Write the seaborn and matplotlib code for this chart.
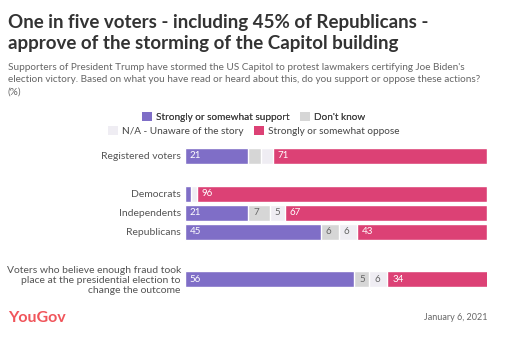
import matplotlib
matplotlib.use("Agg")
import matplotlib.pyplot as plt
from matplotlib.patches import Patch
import seaborn as sns
import pandas as pd
import numpy as np

categories = ["Registered voters", "Democrats", "Independents", "Republicans",
              "Voters who believe enough fraud took\nplace at the presidential election to\nchange the outcome"]
support = [21, 2, 21, 45, 56]
dont_know = [4, 0, 7, 6, 5]
unaware = [4, 2, 5, 6, 6]
oppose = [71, 96, 67, 43, 34]
series_names = ["Strongly or somewhat support", "Don't know",
                "N/A - Unaware of the story", "Strongly or somewhat oppose"]
positions = [0, 2, 3, 4, 6.5]

colors = ["#7f6ec7", "#d6d6d6", "#efedf3", "#dc4175"]
label_colors = ["white", "#666666", "#666666", "white"]

sns.set_theme(style="white")
plt.rcParams['font.family'] = ['Lato', 'DejaVu Sans']

fig = plt.figure(figsize=(5.07, 3.38), dpi=100)
ax = fig.add_axes([185/507, 1-287/338, 302/507, 139/338])

vals = np.array([support, dont_know, unaware, oppose], dtype=float)
cum = np.cumsum(vals, axis=0)

df = pd.DataFrame({"pos": positions})
for i in range(3, -1, -1):
    df["v"] = cum[i]
    sns.barplot(data=df, x="v", y="pos", orient="y", native_scale=True,
                color=colors[i], saturation=1, width=0.84, ax=ax, errorbar=None)

for i in range(4):
    for j, p in enumerate(positions):
        v = vals[i, j]
        if v >= 5:
            left = cum[i, j] - v
            ax.annotate(f"{int(v)}", (left, p), xytext=(3.5, 0), textcoords="offset points",
                        ha="left", va="center", fontsize=7, color=label_colors[i])

ax.set_xlim(0, 100)
ax.set_ylim(6.92, -0.42)
ax.set_xticks([])
ax.set_yticks(positions)
ax.set_yticklabels(categories, fontsize=7.5, color="#555555", linespacing=1.1)
ax.tick_params(axis="y", length=0, pad=3)
ax.set_xlabel("")
ax.set_ylabel("")
for s in ax.spines.values():
    s.set_visible(False)

fig.text(8/507, 1-14/338, "One in five voters - including 45% of Republicans -\napprove of the storming of the Capitol building",
         ha="left", va="top", fontsize=13.5, fontweight="bold", color="#333333", linespacing=1.32)
fig.text(8/507, 1-63/338,
         "Supporters of President Trump have stormed the US Capitol to protest lawmakers certifying Joe Biden's\n"
         "election victory. Based on what you have read or heard about this, do you support or oppose these actions?\n(%)",
         ha="left", va="top", fontsize=7.2, color="#666666", linespacing=1.45)

h = [Patch(facecolor=c, edgecolor="none") for c in colors]
leg1 = fig.legend([h[0], h[1]], [series_names[0], series_names[1]], ncol=2, loc="center",
                  bbox_to_anchor=(0.5, 1-117/338), frameon=False, fontsize=7.2,
                  handlelength=1.0, handleheight=1.0, handletextpad=0.4, columnspacing=1.0,
                  labelcolor="#444444")
fig.add_artist(leg1)
fig.legend([h[2], h[3]], [series_names[2], series_names[3]], ncol=2, loc="center",
           bbox_to_anchor=(0.5, 1-131/338), frameon=False, fontsize=7.2,
           handlelength=1.0, handleheight=1.0, handletextpad=0.4, columnspacing=1.0,
           labelcolor="#444444")

fig.text(8/507, 1-318/338, "YouGov", ha="left", va="center", fontsize=11.5,
         fontweight="bold", color="#f0555b")
fig.text(488/507, 1-318/338, "January 6, 2021", ha="right", va="center",
         fontsize=6.5, color="#666666")

fig.savefig("out.png", dpi=100)
